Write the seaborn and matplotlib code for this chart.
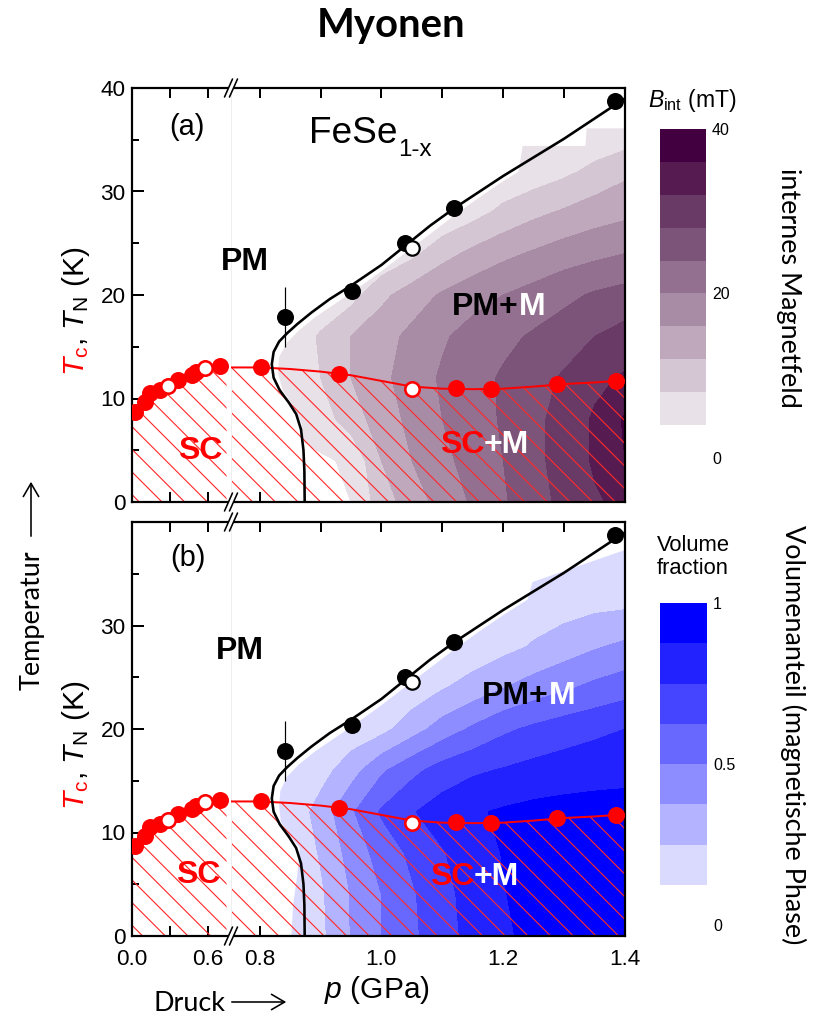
import numpy as np
import matplotlib
matplotlib.use("Agg")
import matplotlib.pyplot as plt
from matplotlib.patches import Polygon
from matplotlib.lines import Line2D
import seaborn as sns

DPI = 136
W, H = 819, 1019


def pt(px):
    return px * 72.0 / DPI


# ------------------------------------------------------------------ data
# superconducting transition Tc (red), low-pressure section
tc_left_p = [0.028, 0.107, 0.146, 0.225, 0.37, 0.475, 0.51, 0.70]
tc_left_T = [8.7, 9.7, 10.5, 10.8, 11.8, 12.3, 12.6, 13.1]
tc_left_open_p = [0.29, 0.58]
tc_left_open_T = [11.2, 12.9]
# Tc, high-pressure section
tc_right_p = [0.803, 0.931, 1.122, 1.18, 1.288, 1.386]
tc_right_T = [13.0, 12.4, 11.0, 10.9, 11.4, 11.7]
tc_right_open_p = [1.05]
tc_right_open_T = [10.9]
# magnetic transition TN (black)
tn_p = [0.842, 0.952, 1.039, 1.119, 1.384]
tn_T = [17.9, 20.4, 25.0, 28.4, 38.7]
tn_err_p = [0.842]
tn_err_T = [17.9]
tn_err = [2.9]
tn_open_p = [1.05]
tn_open_T = [24.5]

# guide-to-the-eye lines
tc_curve_left_p = [0.0, 0.05, 0.1, 0.2, 0.3, 0.4, 0.5, 0.6, 0.7, 0.75]
tc_curve_left_T = [8.6, 9.3, 9.9, 10.7, 11.3, 11.9, 12.4, 12.8, 13.05, 13.1]
tc_curve_right_p = [0.753, 0.80, 0.85, 0.90, 0.95, 1.00, 1.05, 1.10, 1.15,
                    1.20, 1.25, 1.30, 1.35, 1.40]
tc_curve_right_T = [13.0, 13.0, 12.85, 12.6, 12.25, 11.7, 11.15, 10.95, 10.9,
                    10.95, 11.15, 11.4, 11.55, 11.75]
tn_curve_p = [0.874, 0.8735, 0.872, 0.868, 0.860, 0.848, 0.833, 0.823, 0.820,
              0.823, 0.832, 0.845, 0.862, 0.885, 0.915, 0.95, 1.00, 1.04,
              1.08, 1.12, 1.20, 1.30, 1.40]
tn_curve_T = [0.0, 3.0, 5.0, 7.0, 8.5, 9.6, 10.8, 12.0, 13.3,
              14.5, 15.5, 16.3, 17.2, 18.3, 19.6, 20.9, 22.9, 24.8,
              26.7, 28.4, 31.5, 35.1, 39.0]

# measured maps (grid of pressure x temperature)
field_p = [0.80, 0.85, 0.90, 0.95, 1.00, 1.05, 1.10, 1.15, 1.20, 1.25, 1.30, 1.35, 1.40]
field_T = [0, 4, 8, 12, 16, 20, 24, 28, 32, 36, 40]

# internal field B_int (mT), rows = field_T
bint = [
    [2.0, 2.0, 3.0, 4.0, 10.0, 14.0, 17.5, 20.5, 23.5, 26.5, 29.0, 31.5, 33.0],
    [3.0, 3.0, 3.5, 4.5, 12.0, 16.0, 19.0, 21.5, 24.0, 27.0, 29.5, 32.5, 36.0],
    [4.5, 4.5, 6.0, 10.0, 14.0, 17.0, 20.0, 22.0, 24.5, 27.0, 29.5, 32.5, 36.5],
    [4.2, 5.0, 8.0, 12.0, 15.0, 18.0, 20.5, 22.5, 24.5, 26.5, 28.5, 31.0, 32.5],
    [4.2, 5.0, 8.5, 12.0, 14.5, 17.0, 19.5, 21.5, 23.0, 24.5, 26.0, 28.0, 29.5],
    [4.2, 4.2, 4.5, 6.5, 11.0, 14.0, 16.5, 18.5, 20.0, 21.5, 23.0, 24.5, 25.5],
    [4.2, 4.2, 4.2, 4.2, 4.5, 7.0, 10.5, 13.0, 15.0, 16.5, 18.0, 19.0, 20.0],
    [4.2, 4.2, 4.2, 4.2, 4.2, 4.2, 4.5, 6.5, 9.0, 11.0, 12.5, 14.0, 15.0],
    [4.2, 4.2, 4.2, 4.2, 4.2, 4.2, 4.2, 4.2, 4.5, 5.5, 7.0, 9.0, 11.0],
    [4.2, 4.2, 4.2, 4.2, 4.2, 4.2, 4.2, 4.2, 4.2, 4.2, 4.3, 4.5, 5.0],
    [4.2, 4.2, 4.2, 4.2, 4.2, 4.2, 4.2, 4.2, 4.2, 4.2, 4.2, 4.2, 4.5],
]
# magnetic volume fraction, rows = field_T
vfrac = [
    [0.13, 0.14, 0.22, 0.38, 0.50, 0.60, 0.70, 0.79, 0.86, 0.90, 0.92, 0.94, 0.94],
    [0.13, 0.14, 0.23, 0.38, 0.50, 0.61, 0.71, 0.80, 0.87, 0.91, 0.93, 0.95, 0.95],
    [0.13, 0.15, 0.26, 0.42, 0.55, 0.65, 0.74, 0.82, 0.88, 0.92, 0.94, 0.96, 0.96],
    [0.13, 0.16, 0.30, 0.48, 0.64, 0.74, 0.81, 0.86, 0.89, 0.91, 0.92, 0.92, 0.92],
    [0.13, 0.14, 0.20, 0.32, 0.48, 0.59, 0.68, 0.73, 0.76, 0.79, 0.81, 0.83, 0.84],
    [0.13, 0.13, 0.14, 0.17, 0.21, 0.32, 0.43, 0.52, 0.60, 0.65, 0.69, 0.72, 0.75],
    [0.13, 0.13, 0.13, 0.13, 0.14, 0.17, 0.24, 0.30, 0.37, 0.43, 0.48, 0.53, 0.57],
    [0.13, 0.13, 0.13, 0.13, 0.13, 0.13, 0.14, 0.17, 0.21, 0.26, 0.31, 0.36, 0.40],
    [0.13, 0.13, 0.13, 0.13, 0.13, 0.13, 0.13, 0.14, 0.17, 0.19, 0.20, 0.22, 0.23],
    [0.13, 0.13, 0.13, 0.13, 0.13, 0.13, 0.13, 0.13, 0.14, 0.14, 0.14, 0.15, 0.15],
    [0.13, 0.13, 0.13, 0.13, 0.13, 0.13, 0.13, 0.13, 0.13, 0.14, 0.14, 0.14, 0.14],
]
# outline of the magnetically ordered region in each map
clip_a_p = [0.874, 0.874, 0.869, 0.855, 0.838, 0.830, 0.832, 0.845, 0.865, 0.89,
            0.92, 0.96, 1.00, 1.04, 1.08, 1.12, 1.16, 1.20, 1.225, 1.232, 1.335,
            1.337, 1.40, 1.40]
clip_a_T = [0.0, 4.5, 7.6, 9.3, 10.8, 12.5, 14.0, 15.4, 16.6, 17.8,
            19.0, 20.6, 22.3, 24.1, 25.9, 27.7, 29.4, 31.0, 31.9, 34.4, 34.4,
            36.1, 36.1, 0.0]
clip_b_p = [0.852, 0.855, 0.862, 0.866, 0.850, 0.835, 0.832, 0.834, 0.845, 0.865,
            0.89, 0.92, 0.96, 1.00, 1.04, 1.08, 1.12, 1.16, 1.20, 1.24, 1.248,
            1.40, 1.40]
clip_b_T = [0.0, 3.0, 6.0, 8.5, 9.7, 11.0, 12.5, 14.0, 15.4, 16.6,
            17.8, 19.0, 20.6, 22.3, 24.1, 25.9, 27.7, 29.4, 31.0, 32.5, 34.2,
            37.3, 0.0]

bint_levels = [0, 4, 8, 12, 16, 20, 24, 28, 32, 36, 40]
bint_colors = ["#ffffff", "#e9e1e8", "#d5c6d3", "#bfa7bc", "#a88ba5", "#93708f",
               "#7d5479", "#693a66", "#561c52", "#420040"]
vf_levels = [0, 0.125, 0.25, 0.375, 0.5, 0.625, 0.75, 0.875, 1.0]
vf_colors = ["#ffffff", "#dadaff", "#b3b3ff", "#8d8dff", "#6868ff", "#4545ff",
             "#2222ff", "#0000ff"]

# ------------------------------------------------------------------ style
sns.set_theme(style="ticks")
plt.rcParams.update({
    "font.family": ["Liberation Sans", "DejaVu Sans"],
    "mathtext.fontset": "custom",
    "mathtext.rm": "Liberation Sans",
    "mathtext.it": "Liberation Sans:italic",
    "mathtext.bf": "Liberation Sans:bold",
    "hatch.linewidth": 0.6,
    "axes.linewidth": pt(2.2),
    "axes.edgecolor": "black",
    "xtick.color": "black",
    "ytick.color": "black",
    "text.color": "black",
    "axes.facecolor": "white",
    "figure.facecolor": "white",
})
CAL = ["Lato", "DejaVu Sans"]

fig = plt.figure(figsize=(W / DPI, H / DPI), dpi=DPI)


def rect(x0, y0, x1, y1):
    return [x0 / W, 1 - y1 / H, (x1 - x0) / W, (y1 - y0) / H]


def fx(x):
    return x / W


def fy(y):
    return 1 - y / H


def ftext(x, y, s, size, **kw):
    return fig.text(fx(x), fy(y), s, fontsize=pt(size), **kw)


XB = 231
panels = [
    dict(y0=88, y1=502, field=bint, levels=bint_levels, colors=bint_colors,
         clip_p=clip_a_p, clip_T=clip_a_T, bottom=False,
         cax=(660, 129, 706, 458), cticks=[0, 20, 40], ctl=["0", "20", "40"]),
    dict(y0=522, y1=936, field=vfrac, levels=vf_levels, colors=vf_colors,
         clip_p=clip_b_p, clip_T=clip_b_T, bottom=True,
         cax=(660, 603, 707, 925), cticks=[0, 0.5, 1], ctl=["0", "0.5", "1"]),
]

TICKFS = pt(22.5)
for pn in panels:
    axL = fig.add_axes(rect(131.5, pn["y0"], XB, pn["y1"]))
    axR = fig.add_axes(rect(XB, pn["y0"], 625, pn["y1"]))
    axL.set_xlim(0, 0.785)
    axR.set_xlim(0.753, 1.4)
    for ax in (axL, axR):
        ax.set_ylim(0, 40)
        ax.grid(False)

    cf = axR.contourf(field_p, field_T, np.array(pn["field"]), levels=pn["levels"],
                      colors=pn["colors"], zorder=1)
    cf.set_clip_path(Polygon(np.column_stack([pn["clip_p"], pn["clip_T"]]),
                             closed=True, transform=axR.transData))

    # SC hatch and Tc lines
    for ax, cp, ct in ((axL, tc_curve_left_p, tc_curve_left_T),
                       (axR, tc_curve_right_p, tc_curve_right_T)):
        ax.fill_between(cp, 0, ct, facecolor="none", edgecolor="#ff2a2a",
                        hatch="\\\\", linewidth=0, zorder=2)
        sns.lineplot(x=cp, y=ct, ax=ax, color="red", lw=pt(2.0), sort=False,
                     estimator=None, zorder=3)

    sns.lineplot(x=tn_curve_p, y=tn_curve_T, ax=axR, color="black", lw=pt(2.6),
                 sort=False, estimator=None, zorder=3)

    axR.errorbar(tn_err_p, tn_err_T, yerr=tn_err, fmt="none", ecolor="black",
                 elinewidth=pt(1.2), capsize=0, zorder=3)

    S_FULL = pt(17) ** 2
    S_OPEN = (pt(17) - pt(2.6)) ** 2
    sns.scatterplot(x=tc_left_p, y=tc_left_T, ax=axL, s=S_FULL, color="red",
                    edgecolor="red", linewidth=0, zorder=4)
    sns.scatterplot(x=tc_left_open_p, y=tc_left_open_T, ax=axL, s=S_OPEN,
                    color="white", edgecolor="red", linewidth=pt(2.6), zorder=5)
    sns.scatterplot(x=tc_right_p, y=tc_right_T, ax=axR, s=S_FULL, color="red",
                    edgecolor="red", linewidth=0, zorder=4)
    sns.scatterplot(x=tc_right_open_p, y=tc_right_open_T, ax=axR, s=S_OPEN,
                    color="white", edgecolor="red", linewidth=pt(2.6), zorder=5)
    sns.scatterplot(x=tn_p, y=tn_T, ax=axR, s=S_FULL, color="black",
                    edgecolor="black", linewidth=0, zorder=4)
    sns.scatterplot(x=tn_open_p, y=tn_open_T, ax=axR, s=S_OPEN,
                    color="white", edgecolor="black", linewidth=pt(2.2), zorder=5)

    # spines / ticks
    axL.spines["right"].set_visible(False)
    axR.spines["left"].set_color("#eeeeee")
    axR.spines["left"].set_linewidth(pt(1))
    axL.set_xticks([0.0, 0.3, 0.6])
    axR.set_xticks([0.8, 1.0, 1.2, 1.4])
    axR.set_xticks([0.9, 1.1, 1.3], minor=True)
    if pn["bottom"]:
        axL.set_xticklabels(["0.0", "", "0.6"])
        axR.set_xticklabels(["0.8", "1.0", "1.2", "1.4"])
        axL.set_yticks([0, 10, 20, 30])
    else:
        axL.set_xticklabels([])
        axR.set_xticklabels([])
        axL.set_yticks([0, 10, 20, 30, 40])
    axL.set_yticks([5, 15, 25, 35], minor=True)
    axR.set_yticks([])
    for ax in (axL, axR):
        ax.tick_params(axis="x", which="both", direction="in", top=True, bottom=True,
                       length=pt(10), width=pt(2), labelsize=TICKFS, pad=pt(13))
        ax.set_xlabel("")
        ax.set_ylabel("")
    axL.tick_params(axis="y", which="major", direction="in", left=True, right=False,
                    length=pt(12), width=pt(2), labelsize=TICKFS, pad=pt(6))
    axL.tick_params(axis="y", which="minor", direction="in", left=True, right=False,
                    length=pt(7), width=pt(2))
    axR.tick_params(axis="y", which="both", left=False, right=False)

    # break marks
    for yc in (pn["y0"], pn["y1"]):
        gap = Polygon([(fx(XB - 6.5), fy(yc + 9)), (fx(XB + 1.5), fy(yc - 9)),
                       (fx(XB + 6.5), fy(yc - 9)), (fx(XB - 1.5), fy(yc + 9))],
                      closed=True, transform=fig.transFigure, facecolor="white",
                      edgecolor="none", zorder=5)
        fig.add_artist(gap)
        for dx in (-2.5, 2.5):
            fig.add_artist(Line2D([fx(XB + dx - 4), fx(XB + dx + 4)],
                                  [fy(yc + 9), fy(yc - 9)],
                                  transform=fig.transFigure, color="black",
                                  lw=pt(1.6), zorder=6))

    # colour bar
    x0, y0c, x1, y1c = pn["cax"]
    cax = fig.add_axes(rect(x0, y0c, x1, y1c))
    cb = fig.colorbar(cf, cax=cax, ticks=pn["cticks"])
    cb.ax.set_yticklabels(pn["ctl"])
    cb.outline.set_visible(False)
    cax.tick_params(length=0, labelsize=pt(16), pad=pt(6))

    pn["axL"], pn["axR"] = axL, axR


def two_part(ax, x, y, s1, c1, s2, c2, size, weight="bold"):
    t1 = ftext(x, y, s1, size, color=c1, weight=weight, ha="right", va="baseline")
    ax.annotate(s2, xy=(1, 0), xycoords=t1, ha="left", va="bottom",
                color=c2, fontsize=pt(size), weight=weight, annotation_clip=False)


def arrow(x0, y0, x1, y1):
    fig.add_artist(matplotlib.patches.FancyArrowPatch(
        (fx(x0), fy(y0)), (fx(x1), fy(y1)), transform=fig.transFigure,
        arrowstyle="->,head_length=0.6,head_width=0.35", mutation_scale=pt(22),
        lw=pt(1.6), color="black"))


# ------------------------------------------------------------------ texts
ftext(391, 26, "Myonen", 40, family=CAL, weight="bold", ha="center", va="center")

# panel (a)
axa = panels[0]["axR"]
ftext(187, 127, "(a)", 29, ha="center", va="center")
t = ftext(309, 143, "FeSe", 37, ha="left", va="baseline")
axa.annotate("1-x", xy=(1, 0), xycoords=t, xytext=(pt(1), pt(-10)),
             textcoords="offset points", ha="left", va="bottom",
             fontsize=pt(24), annotation_clip=False)
ftext(245, 262, "PM", 32, weight="bold", ha="center", va="center")
ftext(200, 451, "SC", 32, weight="bold", color="red", ha="center", va="center")
two_part(axa, 519, 315, "PM+", "black", "M", "white", 32)
two_part(axa, 484, 453, "SC", "red", "+M", "white", 32)

# panel (b)
axb = panels[1]["axR"]
ftext(188, 558, "(b)", 29, ha="center", va="center")
ftext(240, 651, "PM", 32, weight="bold", ha="center", va="center")
ftext(198, 875, "SC", 32, weight="bold", color="red", ha="center", va="center")
two_part(axb, 549, 704, "PM+", "black", "M", "white", 32)
two_part(axb, 474, 885, "SC", "red", "+M", "white", 32)

# y-axis labels (rotated) : red Tc followed by black TN (K)
renderer = fig.canvas.get_renderer()
for ybot in (376, 810):
    t1 = ftext(84, ybot, r"$T_\mathrm{c}$", 30, color="red", rotation=90,
               rotation_mode="anchor", ha="left", va="baseline")
    bb = t1.get_window_extent(renderer)
    fig.text(fx(84), bb.y1 / fig.bbox.height, r", $T_\mathrm{N}$ (K)", fontsize=pt(30),
             color="black", rotation=90, rotation_mode="anchor", ha="left", va="baseline")

# x-axis label
ftext(377, 990, r"$p$ (GPa)", 30, ha="center", va="center")

# colour-bar titles
ftext(692, 100, r"$B_\mathrm{int}$ (mT)", 23, ha="center", va="center")
ftext(693, 557, "Volume\nfraction", 22, ha="center", va="center", linespacing=1.1)

# German annotations with long arrows
ftext(40, 690, "Temperatur", 27, family=CAL, rotation=90, rotation_mode="anchor",
      ha="left", va="baseline")
arrow(31, 540, 31, 478)
ftext(153, 1011, "Druck", 27, family=CAL, ha="left", va="baseline")
arrow(228, 1002, 290, 1002)
ftext(789, 288, "internes Magnetfeld", 27, family=CAL, rotation=270, ha="center", va="center")
ftext(793, 735, "Volumenanteil (magnetische Phase)", 27, family=CAL, rotation=270,
      ha="center", va="center")

fig.savefig("out.png", dpi=DPI)
